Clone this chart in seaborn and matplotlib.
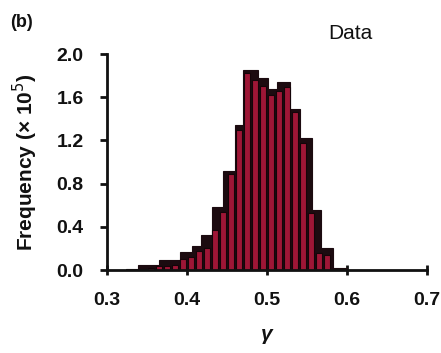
import numpy as np
import pandas as pd
import matplotlib
matplotlib.use("Agg")
import matplotlib.pyplot as plt
import seaborn as sns

# ---- data (frequency in units of 10^5) ----
# dark (background) histogram: bin edges and heights
black_edges = [0.324, 0.339, 0.365, 0.391, 0.406, 0.418, 0.431, 0.445, 0.460,
               0.470, 0.489, 0.501, 0.512, 0.529, 0.541, 0.556, 0.567, 0.582,
               0.600, 0.620]
black_heights = [0.01, 0.05, 0.09, 0.17, 0.22, 0.32, 0.58, 0.92, 1.34,
                 1.85, 1.78, 1.68, 1.74, 1.49, 1.22, 0.56, 0.20, 0.015, 0.005]

# red (front) histogram: bin centres and heights, bin width 0.01
red_centers = [0.335, 0.345, 0.355, 0.365, 0.375, 0.385, 0.395, 0.405, 0.415,
               0.425, 0.435, 0.445, 0.455, 0.465, 0.475, 0.485, 0.495, 0.505,
               0.515, 0.525, 0.535, 0.545, 0.555, 0.565, 0.575, 0.585]
red_heights = [0.005, 0.01, 0.02, 0.04, 0.04, 0.05, 0.10, 0.12, 0.18,
               0.20, 0.37, 0.54, 0.89, 1.30, 1.82, 1.76, 1.70, 1.62,
               1.66, 1.69, 1.46, 1.18, 0.53, 0.16, 0.14, 0.01]

x_ticks = [0.3, 0.4, 0.5, 0.6, 0.7]
x_tick_labels = ["0.3", "0.4", "0.5", "0.6", "0.7"]
y_ticks = [0.0, 0.4, 0.8, 1.2, 1.6, 2.0]
y_tick_labels = ["0.0", "0.4", "0.8", "1.2", "1.6", "2.0"]

sns.set_style("ticks")
plt.rcParams["font.family"] = ["Liberation Sans", "DejaVu Sans"]
plt.rcParams["text.color"] = "#111111"
plt.rcParams["axes.labelcolor"] = "#111111"
plt.rcParams["xtick.color"] = "#111111"
plt.rcParams["ytick.color"] = "#111111"

fig = plt.figure(figsize=(4.41, 3.53), dpi=100)
ax = fig.add_axes([0.243, 0.235, 0.725, 0.612])

black_mid = [(a + b) / 2 for a, b in zip(black_edges[:-1], black_edges[1:])]
dark = "#1c0b10"
red = "#9e1636"

sns.histplot(x=black_mid, weights=black_heights, bins=black_edges, ax=ax,
             color=dark, alpha=1, edgecolor=dark, linewidth=0.8)
sns.histplot(x=red_centers, weights=red_heights, binwidth=0.01,
             binrange=(0.33, 0.59), shrink=0.72, ax=ax,
             color=red, alpha=1, edgecolor="#140408", linewidth=0.8)

ax.set_xlim(0.3, 0.7)
ax.set_ylim(0.0, 2.0)
ax.set_xticks(x_ticks)
ax.set_xticklabels(x_tick_labels, fontsize=14, fontweight="bold")
ax.set_yticks(y_ticks)
ax.set_yticklabels(y_tick_labels, fontsize=14, fontweight="bold")
ax.tick_params(axis="both", length=5, width=2, pad=5)
ax.tick_params(axis="y", pad=12)
ax.tick_params(axis="x", direction="inout", length=7, pad=12)

for s in ["top", "right"]:
    ax.spines[s].set_visible(False)
for s in ["left", "bottom"]:
    ax.spines[s].set_linewidth(2)
    ax.spines[s].set_color("#111111")

ax.set_ylabel("Frequency (× 10$^5$)", fontsize=15, fontweight="bold", labelpad=12)
ax.set_xlabel("γ", fontsize=15, fontweight="bold", style="italic", labelpad=12)

fig.text(0.022, 0.935, "(b)", fontsize=13, fontweight="bold", ha="left", va="center")
fig.text(0.745, 0.905, "Data", fontsize=15, ha="left", va="center")

fig.savefig("out.png", dpi=100)
